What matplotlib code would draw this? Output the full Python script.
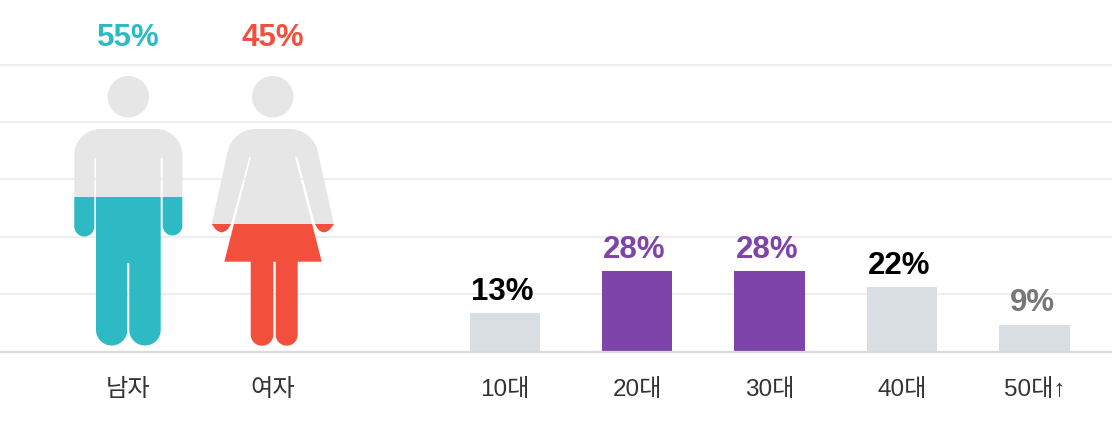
import matplotlib
matplotlib.use('Agg')
import matplotlib.pyplot as plt
from matplotlib.path import Path
from matplotlib.patches import PathPatch, Circle, Rectangle

plt.rcParams['font.family'] = ['Liberation Sans', 'Noto Sans CJK KR', 'DejaVu Sans']

genders = ['남자', '여자']
gender_values = [55, 45]
gender_labels = ['55%', '45%']

ages = ['10대', '20대', '30대', '40대', '50대↑']
age_values = [13.3, 28, 28, 22.4, 9.4]
age_labels = ['13%', '28%', '28%', '22%', '9%']

TEAL, RED, PURPLE = '#2DBAC4', '#F24F3D', '#7E44A9'
ICON_GREY, BAR_GREY = '#E6E6E6', '#D9DEE2'
gender_colors = [TEAL, RED]
bar_colors = [BAR_GREY, PURPLE, PURPLE, BAR_GREY, BAR_GREY]
age_label_colors = ['#000000', PURPLE, PURPLE, '#000000', '#777777']

W, H = 1112, 434
BASE_Y, TOP_Y = 351.5, 64.5   # pixel rows of 0 and 100
gender_x = [128, 272.7]
age_x = [505, 637, 769.5, 902, 1034.5]
ICON_TOP, ICON_BOTTOM = 75, 345.5


def rounded(points):
    # points are (x, y, corner radius)
    verts, codes = [], []
    n = len(points)
    k = 0.55
    for i, (x, y, r) in enumerate(points):
        px, py, _ = points[i - 1]
        nx, ny, _ = points[(i + 1) % n]
        if r == 0:
            verts.append((x, y))
            codes.append(Path.LINETO)
            continue
        d1 = ((px - x) ** 2 + (py - y) ** 2) ** 0.5
        d2 = ((nx - x) ** 2 + (ny - y) ** 2) ** 0.5
        a = (x + (px - x) * r / d1, y + (py - y) * r / d1)
        b = (x + (nx - x) * r / d2, y + (ny - y) * r / d2)
        c1 = (a[0] + (x - a[0]) * k, a[1] + (y - a[1]) * k)
        c2 = (b[0] + (x - b[0]) * k, b[1] + (y - b[1]) * k)
        verts += [a, c1, c2, b]
        codes += [Path.LINETO, Path.CURVE4, Path.CURVE4, Path.CURVE4]
    codes[0] = Path.MOVETO
    verts.append(verts[0])
    codes.append(Path.CLOSEPOLY)
    return Path(verts, codes)


# pictogram outlines, in pixels, relative to the icon centre line
man_body = [(-53.7, 129, 26), (54.3, 129, 26), (54.3, 235.5, 9.8), (34.7, 235.5, 9.8), (34.7, 158, 0),
            (32.7, 158, 0), (32.7, 345.5, 15.5), (1.3, 345.5, 15.5), (1.3, 263, 0), (-0.7, 263, 0),
            (-0.7, 345.5, 15.5), (-32, 345.5, 15.5), (-32, 158, 0), (-33.7, 158, 0),
            (-33.7, 236.5, 10), (-53.7, 236.5, 10)]
man_head = (0.3, 96.7, 20.7)

woman_body = [(-40, 129, 22), (40, 129, 22), (61.3, 224, 0), (55, 232.5, 5), (47, 232.5, 5), (42.3, 224, 0),
              (24.6, 157, 0), (22.3, 157, 0), (49, 261.7, 0), (25, 261.7, 0), (25, 345.7, 11),
              (3, 345.7, 11), (3, 261.7, 0), (0.6, 261.7, 0), (0.6, 345.7, 11), (-22, 345.7, 11),
              (-22, 261.7, 0), (-48.4, 261.7, 0), (-21.7, 157, 0), (-23.4, 157, 0), (-41.7, 224, 0),
              (-47, 232.5, 5), (-55, 232.5, 5), (-61, 224, 0)]
woman_head = (0, 96.7, 20.7)

icons = [(man_body, man_head), (woman_body, woman_head)]

fig = plt.figure(figsize=(W / 100, H / 100), dpi=100, facecolor='white')

# value axes: 0 to 100 between the baseline and the top gridline
ax = fig.add_axes([0, 1 - BASE_Y / H, 1, (BASE_Y - TOP_Y) / H])
ax.set_xlim(0, W)
ax.set_ylim(0, 100)
ax.set_yticks(range(20, 101, 20))
ax.set_xticks([])
ax.tick_params(left=False, labelleft=False)
ax.grid(axis='y', color='#EEEEEE', linewidth=1.6)
for line in ax.get_ygridlines():
    line.set_clip_on(False)
ax.set_axisbelow(True)
for s in ['top', 'left', 'right']:
    ax.spines[s].set_visible(False)
ax.spines['bottom'].set_color('#DADADA')
ax.spines['bottom'].set_linewidth(1.6)
ax.patch.set_visible(False)

ax.bar(age_x, age_values, width=70.5, color=bar_colors, zorder=2)
for x, v, lab, c in zip(age_x, age_values, age_labels, age_label_colors):
    ax.annotate(lab, (x - 2.5, v), xytext=(0, 9.5), textcoords='offset points', ha='center', va='baseline',
                fontweight='bold', fontsize=22.5, color=c, zorder=3)
for x, lab in zip(age_x, ages):
    ax.annotate(lab, (x, 0), xytext=(0, -32), textcoords='offset points', ha='center', va='baseline',
                fontsize=17.5, color='#333333', annotation_clip=False)

# overlay in pixel coordinates for the pictograms
ov = fig.add_axes([0, 0, 1, 1])
ov.set_xlim(0, W)
ov.set_ylim(H, 0)
ov.axis('off')

for cx, value, color, lab, name, (body, head) in zip(gender_x, gender_values, gender_colors,
                                                     gender_labels, genders, icons):
    fill_y = ICON_BOTTOM - value / 100 * (ICON_BOTTOM - ICON_TOP)
    clips = [
        (Rectangle((cx - 80, ICON_TOP - 5), 160, fill_y - ICON_TOP + 5, transform=ov.transData), ICON_GREY),
        (Rectangle((cx - 80, fill_y), 160, ICON_BOTTOM - fill_y + 5, transform=ov.transData), color),
    ]
    for clip, c in clips:
        pts = [(cx + p[0], p[1], p[2]) for p in body]
        patch = PathPatch(rounded(pts), facecolor=c, edgecolor='none', zorder=2)
        ov.add_patch(patch)
        patch.set_clip_path(clip)
        head_patch = Circle((cx + head[0], head[1]), head[2], facecolor=c, edgecolor='none', zorder=2)
        ov.add_patch(head_patch)
        head_patch.set_clip_path(clip)
    ov.text(cx + 0.5, 46, lab, ha='center', va='baseline', fontweight='bold',
            fontsize=22.5, color=color)
    ov.text(cx, 396, name, ha='center', va='baseline', fontsize=17.5, color='#333333')

fig.savefig('out.png', dpi=100, facecolor='white')
